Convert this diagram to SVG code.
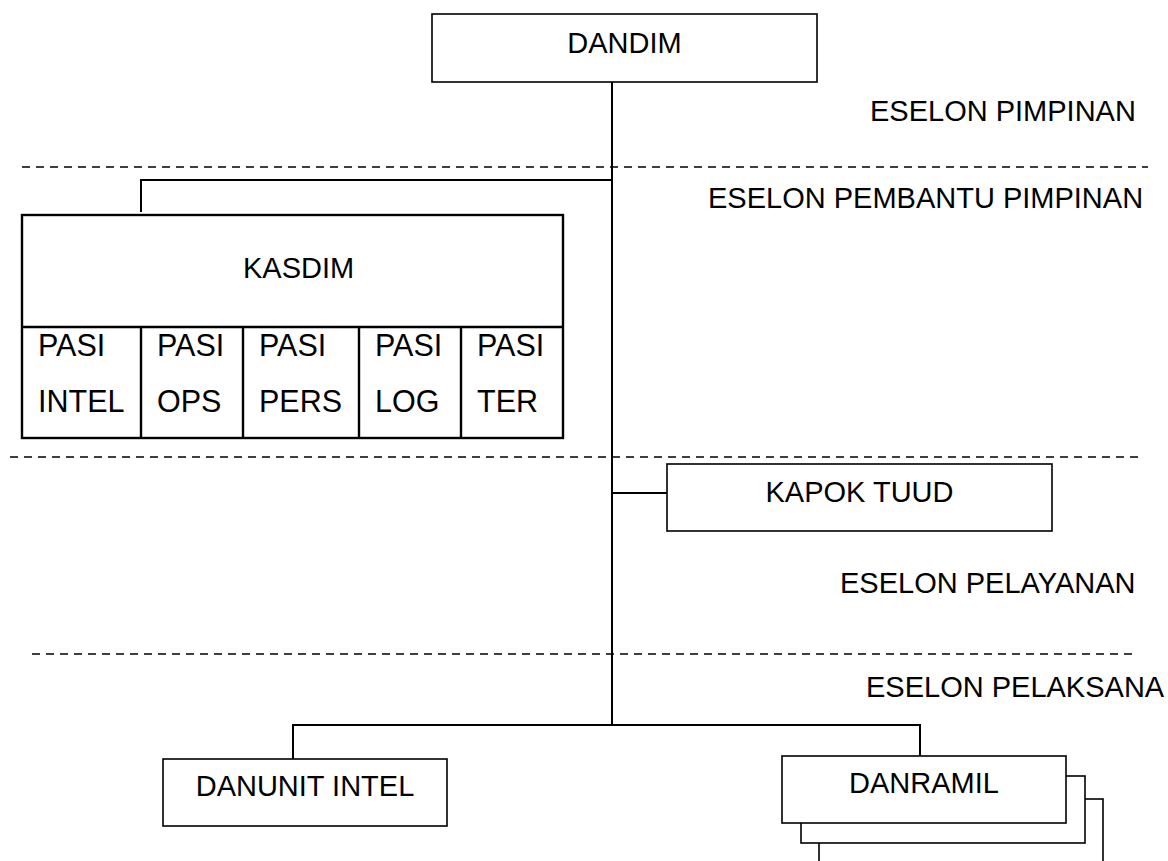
<svg xmlns="http://www.w3.org/2000/svg" width="1168" height="861" viewBox="0 0 1168 861">
<style>
.box{fill:#fff;stroke:#000;stroke-width:1.6}
.tbl{fill:none;stroke:#000;stroke-width:2.4}
.ln{fill:none;stroke:#000;stroke-width:2}
.dash{fill:none;stroke:#000;stroke-width:1.6;stroke-dasharray:8 6}
text{font-family:"Liberation Sans",Arial,sans-serif;font-size:29px;fill:#000}
.c{text-anchor:middle}
.t{font-size:30.5px}
</style>
<rect width="1168" height="861" fill="#fff"/>
<g id="separators">
<line class="dash" x1="22" y1="167" x2="1148" y2="167"/>
<line class="dash" x1="10" y1="457" x2="1140" y2="457"/>
<line class="dash" x1="32" y1="654" x2="1136" y2="654"/>
</g>
<g id="labels">
<text x="870" y="121">ESELON PIMPINAN</text>
<text x="708" y="208">ESELON PEMBANTU PIMPINAN</text>
<text x="840" y="593">ESELON PELAYANAN</text>
<text x="866" y="697">ESELON PELAKSANA</text>
</g>
<g id="connectors">
<line class="ln" x1="612" y1="82" x2="612" y2="725"/>
<polyline class="ln" points="612,180 141,180 141,212"/>
<line class="ln" x1="612" y1="493" x2="667" y2="493"/>
<polyline class="ln" points="293,759 293,725 920,725 920,756"/>
</g>
<g id="dandim">
<rect class="box" x="432" y="14" width="385" height="68"/>
<text class="c" x="624.5" y="53">DANDIM</text>
</g>
<g id="kasdim">
<rect class="tbl" x="22" y="215" width="541" height="223"/>
<line class="tbl" x1="22" y1="327" x2="563" y2="327"/>
<line class="tbl" x1="141" y1="327" x2="141" y2="438"/>
<line class="tbl" x1="243" y1="327" x2="243" y2="438"/>
<line class="tbl" x1="359" y1="327" x2="359" y2="438"/>
<line class="tbl" x1="461" y1="327" x2="461" y2="438"/>
<text x="243" y="278">KASDIM</text>
<text class="t" x="38" y="356">PASI</text><text class="t" x="38" y="412">INTEL</text>
<text class="t" x="157" y="356">PASI</text><text class="t" x="157" y="412">OPS</text>
<text class="t" x="259" y="356">PASI</text><text class="t" x="259" y="412">PERS</text>
<text class="t" x="375" y="356">PASI</text><text class="t" x="375" y="412">LOG</text>
<text class="t" x="477" y="356">PASI</text><text class="t" x="477" y="412">TER</text>
</g>
<g id="kapok-tuud">
<rect class="box" x="667" y="464" width="385" height="67"/>
<text class="c" x="859.5" y="502">KAPOK TUUD</text>
</g>
<g id="danunit-intel">
<rect class="box" x="163" y="759" width="284" height="67"/>
<text class="c" x="305" y="796">DANUNIT INTEL</text>
</g>
<g id="danramil">
<rect class="box" x="819" y="799" width="284" height="67"/>
<rect class="box" x="801" y="776" width="284" height="67"/>
<rect class="box" x="782" y="756" width="284" height="67"/>
<text class="c" x="924" y="793">DANRAMIL</text>
</g>
</svg>
